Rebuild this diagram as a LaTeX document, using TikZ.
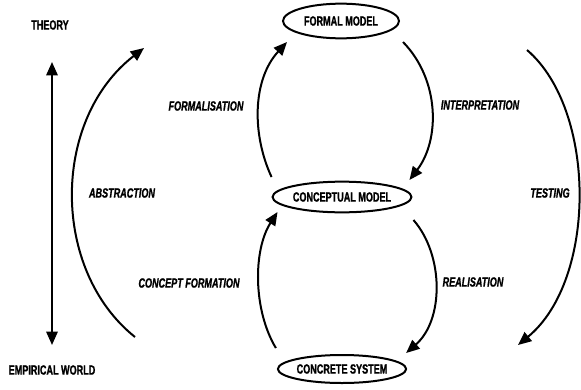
\documentclass[tikz,border=0pt]{standalone}
\usepackage{fontspec}
\setmainfont{Liberation Sans}[FakeStretch=0.68, BoldFeatures={FakeBold=1.2}, BoldItalicFeatures={FakeBold=1.2}]
\usetikzlibrary{arrows.meta,shapes.geometric}
\begin{document}
\begin{tikzpicture}[x=0.75pt,y=-0.75pt,
  lbl/.style={font=\bfseries\itshape\fontsize{10}{12}\selectfont, inner sep=0pt},
  side/.style={font=\bfseries\fontsize{10}{12}\selectfont, inner sep=0pt},
  state/.style={draw, ellipse, line width=1.5pt, inner sep=0pt,
    font=\bfseries\fontsize{10}{12}\selectfont},
  conn/.style={line width=1.5pt, -{Triangle[length=10pt,width=8.5pt]}},
  dconn/.style={line width=1.5pt, {Triangle[length=10pt,width=8.5pt]}-{Triangle[length=10pt,width=8.5pt]}}]
\path[use as bounding box] (0,0) rectangle (581,389);

% states
\node[state, minimum width=87pt, minimum height=26pt] (fm) at (341,21) {FORMAL MODEL};
\node[state, minimum width=90pt, minimum height=23pt] (cm) at (342,197) {CONCEPTUAL MODEL};
\node[state, minimum width=87pt, minimum height=21pt] (cs) at (342,369) {CONCRETE SYSTEM};

% side texts
\node[side] (theory) at (50,25) {THEORY};
\node[side] (empirical) at (52,370) {EMPIRICAL WORLD};
\coordinate (vtop) at (52,62);
\coordinate (vbot) at (52,345);
\draw[dconn] (vbot) -- (vtop);

% abstraction / testing
\coordinate (abs0) at (135,337);
\coordinate (abs1) at (144,48);
\draw[conn] (abs0) .. controls (51,270) and (51,120) .. (abs1);
\coordinate (tst0) at (527,50);
\coordinate (tst1) at (518,345);
\draw[conn] (tst0) .. controls (597,110) and (597,280) .. (tst1);

% inner cycle
\draw[conn] ([shift={(0,-20)}]cm.west) .. controls (252,135) and (252,80) .. ([shift={(5,21)}]fm.west);
\draw[conn] ([shift={(3,21)}]fm.east) .. controls (440,80) and (440,140) .. ([shift={(-3,-17)}]cm.east);
\draw[conn] ([shift={(-1,-21)}]cs.west) .. controls (253,310) and (253,250) .. ([shift={(6,15)}]cm.west);
\draw[conn] ([shift={(1,23)}]cm.east) .. controls (444,255) and (444,320) .. ([shift={(-1,-16)}]cs.east);

% labels
\node[lbl] (lformal) at (206,106) {FORMALISATION};
\node[lbl] (linterp) at (480,105) {INTERPRETATION};
\node[lbl] (labs) at (122,193) {ABSTRACTION};
\node[lbl] (ltest) at (550,193) {TESTING};
\node[lbl] (lconc) at (189,283) {CONCEPT FORMATION};
\node[lbl] (lreal) at (473,282) {REALISATION};
\end{tikzpicture}
\end{document}
